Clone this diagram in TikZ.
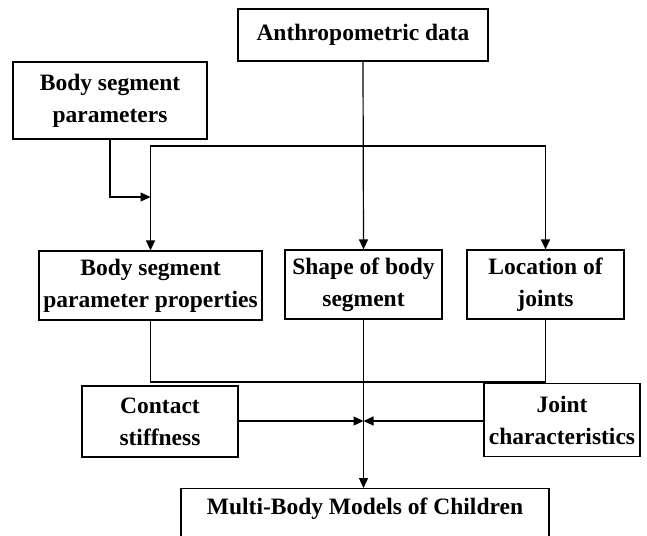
\documentclass[tikz,border=0pt]{standalone}
\usepackage{fontspec}
\setmainfont{Liberation Serif}
\usetikzlibrary{arrows.meta}

\begin{document}
\begin{tikzpicture}[x=1pt,y=-1pt,font=\fontsize{23.5pt}{32pt}\selectfont\bfseries,
  box/.style={draw,line width=1.2pt,align=center,inner sep=0pt},
  arr/.style={-{Triangle[length=10pt,width=9pt]},line width=1.2pt},
  link/.style={line width=1.2pt}]
\clip (0,0) rectangle (647,535);
\node[box,minimum width=250pt,minimum height=52pt] (anthro) at (363,35) {Anthropometric data};
\node[box,minimum width=194pt,minimum height=77pt] (bsp) at (110,100.5) {Body segment\\parameters};
\node[box,minimum width=223pt,minimum height=69pt] (bspp) at (150.5,285.5) {Body segment\\parameter properties};
\node[box,minimum width=157pt,minimum height=69pt] (shape) at (363.5,284.5) {Shape of body\\segment};
\node[box,minimum width=157pt,minimum height=69pt] (loc) at (545.5,284.5) {Location of\\joints};
\node[box,minimum width=156pt,minimum height=71pt] (contact) at (160,421.5) {Contact\\stiffness};
\node[box,minimum width=156pt,minimum height=73pt] (joint) at (562,420) {Joint\\characteristics};
\node[box,anchor=north,minimum width=368pt,text depth=45pt,inner ysep=9pt] (multi) at (365,488)
  {Multi-Body Models of Children};
% junction points
\coordinate (hub) at (363,146);
\coordinate (merge) at (150.5,197);
\coordinate (low) at (363,382);
\coordinate (mid) at (363.5,421);
\draw[arr] (anthro.south) -- (shape.north);
\draw[arr] (hub) -| (bspp.north);
\draw[arr] (hub) -| (loc.north);
\draw[arr] (bsp.south) |- (merge);
\draw[link] (bspp.south) |- (low);
\draw[link] (loc.south) |- (low);
\draw[arr] (shape.south) -- (multi.north -| shape.south);
\draw[arr] (contact.east |- mid) -- (mid);
\draw[arr] (joint.west |- mid) -- (mid);
\end{tikzpicture}
\end{document}
